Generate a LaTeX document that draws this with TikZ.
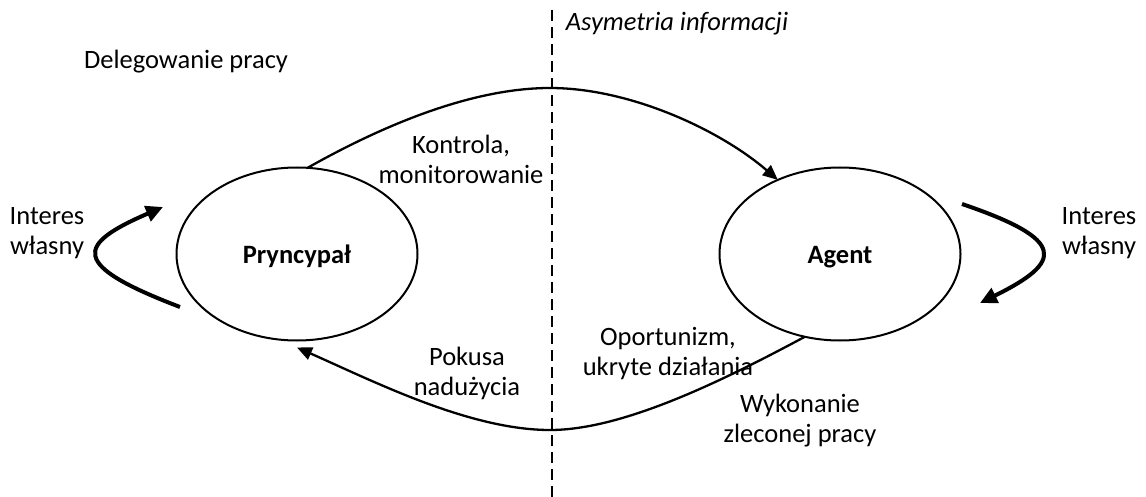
\documentclass[tikz,border=0pt]{standalone}
\usepackage{fontspec}
\setmainfont{Carlito}
\usetikzlibrary{shapes.geometric,arrows.meta}
\begin{document}
\begin{tikzpicture}[x=1pt,y=-1pt,
  party/.style={ellipse,draw,line width=2pt,minimum width=241pt,minimum height=173pt,inner sep=0pt,outer sep=0pt,text height=19pt,text depth=0pt,font=\fontsize{26.5}{30}\selectfont\bfseries},
  lbl/.style={align=center,font=\fontsize{26.5}{30}\selectfont,inner sep=0pt},
  flow/.style={line width=2.3pt,-{Triangle[length=15pt,width=13pt]}},
  selfloop/.style={line width=4pt,-{Triangle[length=17pt,width=16pt]}},
  divider/.style={line width=2pt,dash pattern=on 11pt off 6pt}]
\useasboundingbox (0,0) rectangle (1146,497);
% divider
\coordinate (dtop) at (552,10);
\coordinate (dbot) at (552,497);
\draw[divider] (dtop) -- (dbot);
% parties
\node[party] (P) at (297,254) {Pryncypał};
\node[party] (A) at (840,254) {Agent};
% flows
\coordinate (pin) at ([yshift=-7pt]P.south);
\draw[flow] (P.83.5) .. controls (380,127) and (470,88) .. (550,88) .. controls (630,88) and (720,130) .. (A.130);
\draw[flow] (A.247) .. controls (715,385) and (620,430) .. (550,430) .. controls (470,430) and (375,382) .. (pin);
% self-interest loops
\coordinate (ls) at (180,307);
\coordinate (lt) at (163,207);
\draw[selfloop] (ls) .. controls (70,265) and (75,245) .. (lt);
\coordinate (rs) at (962,204);
\coordinate (rt) at (980,303);
\draw[selfloop] (rs) .. controls (1068,240) and (1063,262) .. (rt);
% labels
\node[lbl,font=\fontsize{26.5}{30}\selectfont\itshape] (asym) at (677,24) {Asymetria informacji};
\node[lbl] (deleg) at (186,62) {Delegowanie pracy};
\node[lbl] (kontr) at (461,159) {Kontrola,\\monitorowanie};
\node[lbl] (intl) at (47,233) {Interes\\własny};
\node[lbl] (intr) at (1099,233) {Interes\\własny};
\node[lbl] (pok) at (467,373) {Pokusa\\nadużycia};
\node[lbl] (oport) at (668,354) {Oportunizm,\\ukryte działania};
\node[lbl] (wyk) at (800,421) {Wykonanie\\zleconej pracy};
\end{tikzpicture}
\end{document}
